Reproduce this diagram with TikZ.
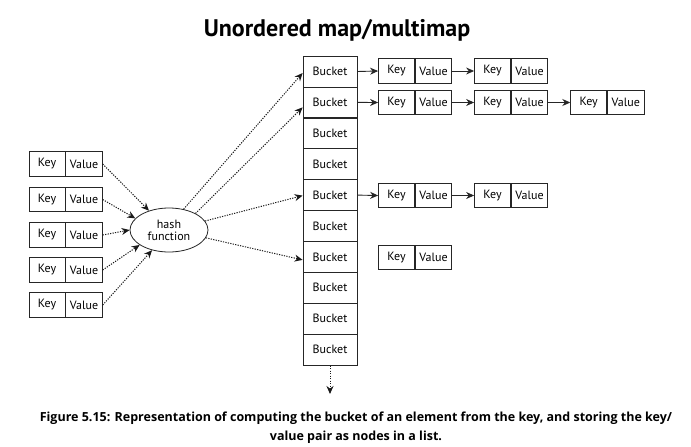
\documentclass[tikz,border=0pt]{standalone}
\usepackage{fontspec}
\setmainfont{PT Sans}
\newfontfamily\capfont{Open Sans}
\usetikzlibrary{arrows.meta,shapes.geometric}
\tikzset{
  cell/.style={draw=black!85, line width=0.8pt, inner sep=0pt, minimum height=24.5pt, font=\fontsize{12}{13}\selectfont},
  keycell/.style={cell, minimum width=36pt},
  valcell/.style={cell, minimum width=36.5pt},
  bucket/.style={draw=black!85, line width=0.8pt, inner sep=0pt, minimum width=54pt, minimum height=31pt, font=\fontsize{12}{13}\selectfont},
  hashnode/.style={draw=black!85, line width=0.8pt, ellipse, inner sep=0pt, minimum width=78pt, minimum height=44pt, align=center, font=\fontsize{12}{13}\selectfont},
  solidarr/.style={draw=black!85, line width=0.9pt, -{Stealth[length=8pt,width=7pt]}},
  dotarr/.style={draw=black!90, line width=1pt, dash pattern=on 1.2pt off 1.3pt, -{Stealth[length=8pt,width=7pt]}},
}
\begin{document}
\begin{tikzpicture}[x=1pt,y=-1pt]
\useasboundingbox (0,0) rectangle (691,447);
\fill[white] (0,0) rectangle (691,447);

% title
\node[font=\bfseries\fontsize{24}{28}\selectfont] (title) at (337,30) {Unordered map/multimap};

% buckets
\foreach \i in {1,...,10}{
  \node[bucket] (b\i) at (330,{71.5+30.9*(\i-1)}) {Bucket};
}

% left key/value pairs
\foreach \i/\y in {1/164,2/199.5,3/235,4/270,5/305}{
  \node[keycell] (lk\i) at (47,\y) {Key};
  \node[valcell, anchor=west] (lv\i) at (lk\i.east) {Value};
}

% hash function
\node[hashnode] (hash) at (169,230) {hash\\[-1pt]function};

% right key/value pairs
\foreach \r/\y in {1/71,2/102.5,5/195.5,7/257.5}{
  \node[keycell] (k\r a) at (396.5,\y) {Key};
  \node[valcell, anchor=west] (v\r a) at (k\r a.east) {Value};
}
\foreach \r/\y in {1/71,2/102.5,5/195.5}{
  \node[keycell] (k\r b) at (492.5,\y) {Key};
  \node[valcell, anchor=west] (v\r b) at (k\r b.east) {Value};
}
\node[keycell] (k2c) at (588.7,102.5) {Key};
\node[valcell, anchor=west] (v2c) at (k2c.east) {Value};

% solid arrows
\foreach \r in {1,2,5}{
  \draw[solidarr] (b\r.east) -- (k\r a.west);
  \draw[solidarr] (v\r a.east) -- (k\r b.west);
}
\draw[solidarr] (v2b.east) -- (k2c.west);

% dotted arrows into hash
\draw[dotarr] (lv1.east) -- (hash.136);
\draw[dotarr] (lv2.east) -- (hash.161);
\draw[dotarr] (lv3.east) -- (hash.180);
\draw[dotarr] (lv4.east) -- (hash.207);
\draw[dotarr] (lv5.east) -- (hash.230);

% dotted arrows out of hash
\draw[dotarr] (hash.55) -- ([yshift=-1.5pt]b1.west);
\draw[dotarr] (hash.32) -- ([yshift=-5pt]b2.west);
\draw[dotarr] (hash.14) -- ([yshift=-0.5pt]b5.west);
\draw[dotarr] (hash.-12) -- ([yshift=-3pt]b7.west);

% down arrow
\coordinate (down) at (330,394);
\draw[dotarr] (b10.south) -- (down);

% caption
\node[font=\capfont\bfseries\fontsize{12.5}{19}\selectfont, align=center] (cap) at (356,427.5)
  {Figure 5.15: Representation of computing the bucket of an element from the key, and storing the key/\\value pair as nodes in a list.};
\end{tikzpicture}
\end{document}
